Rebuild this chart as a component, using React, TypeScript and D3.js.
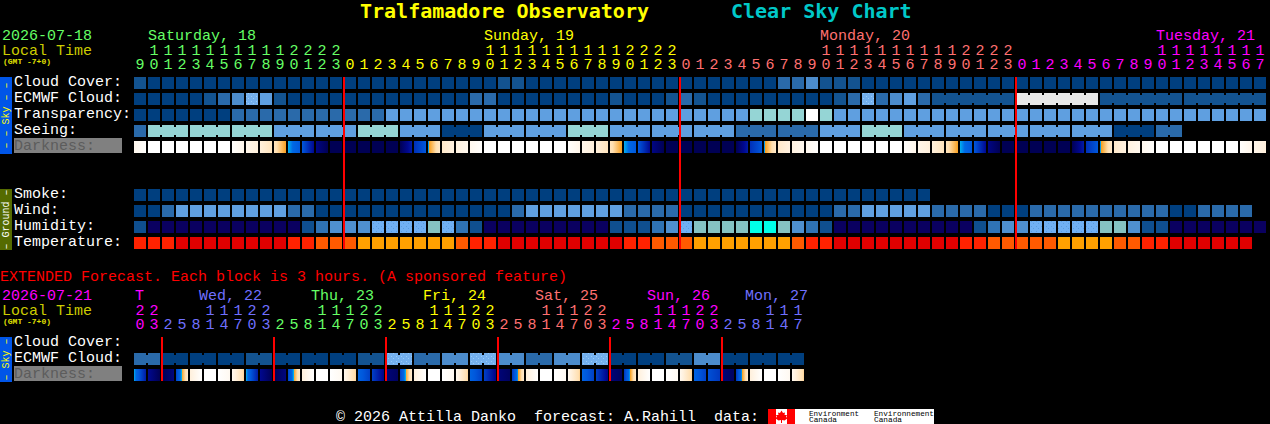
import { useEffect, useRef } from 'react';
import * as d3 from 'd3';

const FONT = '"Liberation Mono", monospace';
const TITLE_FONT = '"DejaVu Sans Mono", monospace';

// palette steps used by the sky rows (0 = best, clear dark blue)
const skyLevels = [0, 1, 2, 3, 4, 5, 6, 7, 8];
const skyColors = ['#003F7F', '#135390', '#2A6AAA', '#4C8CCC', '#5F9FE0', 'url(#speckleSky)', '#95D5D5', '#FFFFFF', '#E8E8E8'];
const humidityColors = ['#0A0060', '#0F4F8F', '#2F73B5', '#4F90D0', 'url(#speckleHum)', '#85C2C2', '#00FFE8'];
const temperatureColors = ['#E00000', '#FF2200', '#FF5A00', '#FFA000'];

const darknessDomain = [0, 1, 2, 3, 3.01, 3.4, 4, 5, 6, 7];
const darknessColors = ['#FFFFFF', '#FFF0DC', '#FFDFB0', '#F8A020', '#00B0F0', '#0068E4', '#0058DC', '#0030B8', '#000890', '#000054'];

const cloudCover = [
  1, 0, 0, 0, 0, 0, 0, 0, 0, 0,
  0, 0, 0, 0, 0, 0, 0, 0, 0, 0,
  0, 0, 0, 0, 0, 0, 1, 1, 0, 0,
  0, 0, 0, 0, 0, 0, 0, 0, 0, 0,
  0, 0, 0, 0, 0, 0, 2, 2, 3, 1,
  1, 1, 0, 0, 0, 0, 0, 0, 0, 0,
  0, 0, 0, 0, 0, 0, 0, 0, 0, 0,
  0, 0, 0, 0, 0, 0, 0, 0, 0, 0, 0,
];
const ecmwfCloud = [
  0, 0, 0, 0, 0, 1, 2, 3, 5, 4,
  1, 0, 0, 0, 0, 0, 0, 0, 0, 0,
  0, 0, 0, 0, 2, 2, 0, 0, 0, 0,
  0, 0, 0, 0, 1, 0, 0, 0, 1, 2,
  1, 0, 0, 0, 0, 0, 0, 0, 0, 0,
  1, 2, 5, 2, 3, 4, 2, 1, 1, 1,
  1, 1, 1, 8, 8, 8, 8, 8, 8, 1,
  1, 1, 1, 1, 1, 1, 1, 1, 1, 1, 1,
];
const ecmwfSpans = [...Array(57).fill(1), 6, 6, 6, 6];
const transparency = [
  0, 0, 0, 0, 0, 0, 0, 2, 2, 2,
  2, 2, 2, 2, 2, 2, 2, 2, 4, 4,
  4, 4, 4, 4, 4, 4, 4, 4, 4, 4,
  4, 4, 4, 4, 4, 4, 4, 4, 4, 4,
  4, 4, 4, 4, 6, 6, 6, 6, 7, 6,
  4, 4, 4, 4, 4, 4, 4, 4, 4, 4,
  4, 4, 4, 4, 4, 4, 4, 4, 4, 4,
  4, 4, 4, 4, 4, 4, 4, 4, 4, 4, 4,
];
const seeing = [
  2, 6, 6, 6, 6, 6, 6, 6, 6, 6,
  4, 4, 4, 4, 4, 4, 6, 6, 6, 4,
  4, 4, 0, 0, 0, 4, 4, 4, 4, 4,
  4, 6, 6, 6, 4, 4, 4, 4, 4, 4,
  4, 4, 4, 2, 2, 2, 2, 2, 2, 4,
  4, 4, 6, 6, 6, 4, 4, 4, 4, 4,
  4, 4, 4, 4, 4, 4, 4, 4, 4, 4,
  0, 0, 0, 2, 2,
];
const seeingSpans = [1, ...Array(24).fill(3), 2];
const darknessStart = [
  0.5, 0, 0, 0, 0, 0, 0, 0.1, 0.6, 1,
  1.7, 3.01, 4, 6.2, 7, 7, 7, 7, 7, 7,
  5, 3.2, 1.4, 0.9, 0.5, 0, 0, 0, 0, 0,
  0, 0.1, 0.6, 1, 1.7, 3.01, 4, 6.2, 7, 7,
  7, 7, 7, 7, 5, 3.2, 1.4, 0.9, 0.5, 0,
  0, 0, 0, 0, 0, 0.1, 0.6, 1, 1.7, 3.01,
  4, 6.2, 7, 7, 7, 7, 7, 7, 5, 3.2,
  1.4, 0.9, 0.5, 0, 0, 0, 0, 0, 0, 0.1, 0.6,
];
const darknessEnd = [
  0.1, 0, 0, 0, 0, 0, 0, 0.6, 1, 1.7,
  3, 4, 6, 7, 7, 7, 7, 7, 7, 5.5,
  4, 1.4, 0.9, 0.5, 0.1, 0, 0, 0, 0, 0,
  0, 0.6, 1, 1.7, 3, 4, 6, 7, 7, 7,
  7, 7, 7, 5.5, 4, 1.4, 0.9, 0.5, 0.1, 0,
  0, 0, 0, 0, 0, 0.6, 1, 1.7, 3, 4,
  6, 7, 7, 7, 7, 7, 7, 5.5, 4, 1.4,
  0.9, 0.5, 0.1, 0, 0, 0, 0, 0, 0, 0.6, 1,
];

const smoke = Array.from('000000000000000000000000000000000000000000000000000000000', Number);
const wind = [
  0, 0, 2, 4, 4, 4, 4, 4, 4, 4,
  4, 2, 2, 0, 0, 0, 0, 0, 0, 0,
  0, 0, 0, 0, 0, 0, 0, 2, 4, 4,
  4, 4, 4, 4, 4, 2, 2, 2, 2, 0,
  0, 0, 0, 0, 0, 0, 0, 0, 0, 0,
  2, 2, 4, 4, 4, 4, 4, 2, 2, 2,
  2, 0, 0, 0, 2, 2, 2, 2, 2, 2,
  2, 2, 2, 2, 0, 0, 2, 2, 2, 2,
];
const humidity = [
  1, 0, 0, 0, 0, 0, 0, 0, 0, 0,
  0, 0, 1, 2, 3, 3, 3, 4, 4, 4,
  4, 5, 4, 2, 1, 0, 0, 0, 0, 0,
  0, 0, 0, 0, 1, 1, 1, 2, 3, 4,
  5, 5, 5, 5, 6, 6, 5, 3, 2, 1,
  0, 0, 0, 0, 0, 0, 0, 0, 0, 0,
  1, 2, 3, 3, 4, 4, 4, 4, 4, 5,
  5, 3, 1, 1, 0, 0, 0, 0, 0, 0, 0,
];
const temperature = [
  1, 1, 1, 0, 0, 0, 0, 0, 0, 0,
  0, 1, 1, 2, 2, 2, 3, 3, 3, 3,
  3, 3, 3, 2, 1, 1, 0, 0, 0, 0,
  0, 0, 0, 0, 0, 1, 1, 2, 2, 2,
  3, 3, 3, 3, 3, 3, 3, 2, 1, 1,
  0, 0, 0, 0, 0, 0, 0, 0, 0, 1,
  1, 2, 2, 2, 2, 2, 3, 3, 3, 3,
  2, 2, 1, 1, 0, 0, 0, 0, 0, 0,
];

// hours shown above the hourly columns
const hours = [
  9, 10, 11, 12, 13, 14, 15, 16, 17, 18, 19, 20, 21, 22, 23,
  0, 1, 2, 3, 4, 5, 6, 7, 8, 9, 10, 11, 12, 13, 14, 15, 16, 17, 18, 19, 20, 21, 22, 23,
  0, 1, 2, 3, 4, 5, 6, 7, 8, 9, 10, 11, 12, 13, 14, 15, 16, 17, 18, 19, 20, 21, 22, 23,
  0, 1, 2, 3, 4, 5, 6, 7, 8, 9, 10, 11, 12, 13, 14, 15, 16, 17,
];
const dayTitles = ['Saturday, 18', 'Sunday, 19', 'Monday, 20', 'Tuesday, 21'];
const dayTitleX = [148, 484, 820, 1156];
const dayColors = ['#66FF66', '#FFFF00', '#FF7070', '#FF00FF'];
const dayBreaks = [15, 39, 63];

// extended forecast, 3 hour blocks
const extHours = [
  20, 23,
  2, 5, 8, 11, 14, 17, 20, 23,
  2, 5, 8, 11, 14, 17, 20, 23,
  2, 5, 8, 11, 14, 17, 20, 23,
  2, 5, 8, 11, 14, 17, 20, 23,
  2, 5, 8, 11, 14, 17, 20, 23,
  2, 5, 8, 11, 14, 17,
];
const extTitles = ['T', 'Wed, 22', 'Thu, 23', 'Fri, 24', 'Sat, 25', 'Sun, 26', 'Mon, 27'];
const extTitleX = [135, 199, 311, 423, 535, 647, 745];
const extColors = ['#FF00FF', '#7070FF', '#66FF66', '#FFFF00', '#FF7070', '#FF00FF', '#7070FF'];
const extBreaks = [2, 10, 18, 26, 34, 42];
const extEcmwf = [
  2, 2, 0, 0, 0, 0, 0, 0, 1, 1,
  0, 0, 0, 0, 0, 0, 1, 1, 5, 5,
  2, 2, 3, 3, 5, 5, 3, 3, 2, 2,
  3, 3, 5, 5, 0, 0, 0, 0, 1, 1,
  3, 3, 0, 0, 0, 0, 0, 0,
];
const extSpans = Array(24).fill(2);
const extDarkStart = [
  3.01, 6, 7, 4.5, 1, 0, 0, 0.5,
  3.01, 6, 7, 4.5, 1, 0, 0, 0.5,
  3.6, 4.6, 6.4, 4.5, 1, 0, 0, 0.5,
  3.6, 4.6, 6.4, 4.8, 1, 0, 0, 0.5,
  3.6, 4.6, 6.4, 4.8, 1, 0, 0, 0.5,
  3.6, 4.2, 6.4, 4.8, 1, 0, 0, 0.5,
];
const extDarkEnd = [
  5.5, 7, 6.3, 1.3, 0, 0, 0.4, 2.2,
  5.5, 7, 6.3, 1.3, 0, 0, 0.4, 2.2,
  4.6, 6.2, 6.8, 1.3, 0, 0, 0.4, 2.2,
  4.6, 6.2, 6.8, 1.3, 0, 0, 0.4, 2.2,
  4.6, 6.2, 6.8, 1.3, 0, 0, 0.4, 2.2,
  4.6, 4.8, 6.8, 1.3, 0, 0, 0.4, 2.2,
];

const App = () => {
  const chartRef = useRef<SVGSVGElement | null>(null);

  useEffect(() => {
    if (!chartRef.current) return;
    document.body.style.margin = '0';
    document.body.style.background = '#000';

    const svg = d3.select(chartRef.current);
    svg.selectAll('*').remove();
    const defs = svg.append('defs');

    // the brightest blues are dithered in the original
    const speckle = (id: string, base: string, dot: string) => {
      const p = defs.append('pattern')
        .attr('id', id)
        .attr('patternUnits', 'userSpaceOnUse')
        .attr('width', 5)
        .attr('height', 5);
      p.append('rect').attr('width', 5).attr('height', 5).attr('fill', base);
      p.append('rect').attr('x', 1).attr('y', 1).attr('width', 1).attr('height', 1).attr('fill', dot);
      p.append('rect').attr('x', 3).attr('y', 3).attr('width', 1).attr('height', 1).attr('fill', dot);
    };
    speckle('speckleSky', '#74B0EE', '#98CCF8');
    speckle('speckleHum', '#70B0F4', '#5A9CE0');

    const skyColor = d3.scaleOrdinal<number, string>().domain(skyLevels).range(skyColors);
    const humColor = d3.scaleOrdinal<number, string>().domain(d3.range(humidityColors.length)).range(humidityColors);
    const tempColor = d3.scaleOrdinal<number, string>().domain(d3.range(temperatureColors.length)).range(temperatureColors);
    const darkColor = d3.scaleLinear<string>().domain(darknessDomain).range(darknessColors);

    // 14px step, 12px wide blocks
    const xMain = d3.scaleBand<number>().domain(d3.range(hours.length)).range([134, 134 + 14 * hours.length - 2]).paddingInner(2 / 14);
    const xExt = d3.scaleBand<number>().domain(d3.range(extHours.length)).range([134, 134 + 14 * extHours.length - 2]).paddingInner(2 / 14);

    const text = (x: number, y: number, s: string, fill: string, size = 15, anchor = 'start') =>
      svg.append('text')
        .attr('x', x)
        .attr('y', y)
        .attr('fill', fill)
        .attr('font-family', FONT)
        .attr('font-size', size)
        .attr('text-anchor', anchor)
        .style('white-space', 'pre')
        .text(s);

    const blocks = (values: number[], x: d3.ScaleBand<number>, y: number, color: (v: number) => string, spans?: number[]) => {
      const g = svg.append('g').attr('shape-rendering', 'crispEdges');
      g.selectAll('rect.cell')
        .data(values)
        .join('rect')
        .attr('class', 'cell')
        .attr('x', (_, i) => x(i) as number)
        .attr('y', y)
        .attr('width', x.bandwidth())
        .attr('height', 12)
        .attr('fill', d => color(d));

      // joined blocks get a bridge over the gap, notched top and bottom
      if (spans) {
        const joins: number[] = [];
        let start = 0;
        spans.forEach(n => {
          d3.range(start, start + n - 1).forEach(i => joins.push(i));
          start += n;
        });
        g.selectAll('rect.join')
          .data(joins)
          .join('rect')
          .attr('class', 'join')
          .attr('x', i => (x(i) as number) + x.bandwidth())
          .attr('y', y + 2)
          .attr('width', x.step() - x.bandwidth())
          .attr('height', 8)
          .attr('fill', i => color(values[i]));
      }
    };

    const darkBlocks = (starts: number[], ends: number[], x: d3.ScaleBand<number>, y: number) => {
      const seen = new Set<string>();
      const fillFor = (a: number, b: number) => {
        if (a === b) return darkColor(a);
        const id = `dk-${a}-${b}`.replace(/\./g, '_');
        if (!seen.has(id)) {
          seen.add(id);
          const lo = Math.min(a, b);
          const hi = Math.max(a, b);
          const vals = [a, ...darknessDomain.filter(v => v > lo && v < hi), b].sort((p, q) => (a < b ? p - q : q - p));
          const grad = defs.append('linearGradient').attr('id', id);
          vals.forEach(v => {
            grad.append('stop')
              .attr('offset', (v - a) / (b - a))
              .attr('stop-color', darkColor(v));
          });
        }
        return `url(#${id})`;
      };
      svg.append('g')
        .selectAll('rect')
        .data(starts)
        .join('rect')
        .attr('x', (_, i) => x(i) as number)
        .attr('y', y)
        .attr('width', x.bandwidth())
        .attr('height', 12)
        .attr('fill', (d, i) => fillFor(d, ends[i]));
    };

    const sideTab = (y0: number, y1: number, fill: string, label: string, labelColor: string) => {
      svg.append('rect').attr('x', 0).attr('y', y0).attr('width', 12).attr('height', y1 - y0).attr('fill', fill);
      text(0, 0, label, labelColor, 10, 'middle')
        .attr('transform', `translate(9, ${(y0 + y1) / 2}) rotate(-90)`);
    };

    const darknessLabel = (baseline: number) => {
      svg.append('rect').attr('x', 14).attr('y', baseline - 12).attr('width', 108).attr('height', 15).attr('fill', '#808080');
      text(14, baseline, 'Darkness:', '#5C5C5C');
    };

    const gmtLabel = (y: number) => {
      text(3, y, '(GMT -7+0)', '#E0E000', 8)
        .attr('font-weight', 'bold')
        .attr('textLength', 48)
        .attr('lengthAdjust', 'spacingAndGlyphs');
    };

    // title
    text(360, 18, 'Tralfamadore Observatory', '#FFFF00', 20).attr('font-weight', 'bold').attr('font-family', TITLE_FONT);
    text(731, 18, 'Clear Sky Chart', '#00C8C8', 20).attr('font-weight', 'bold').attr('font-family', TITLE_FONT);

    // hourly header
    text(2, 40, '2026-07-18', '#66FF66');
    text(2, 55, 'Local Time', '#CCCC00');
    gmtLabel(64);
    dayTitles.forEach((t, i) => text(dayTitleX[i], 40, t, dayColors[i]));
    const dayOf = (i: number) => d3.bisectRight(dayBreaks, i);
    hours.forEach((h, i) => {
      const cx = (xMain(i) as number) + xMain.bandwidth() / 2;
      if (h >= 10) text(cx, 55, String(Math.floor(h / 10)), dayColors[dayOf(i)], 15, 'middle');
      text(cx, 69, String(h % 10), dayColors[dayOf(i)], 15, 'middle');
    });

    // sky rows
    sideTab(77, 154, '#0055E8', '\u2013 \u2013 Sky \u2013 \u2013', '#FFFF00');
    text(14, 86, 'Cloud Cover:', '#FFFFFF');
    text(14, 102, 'ECMWF Cloud:', '#FFFFFF');
    text(14, 118, 'Transparency:', '#FFFFFF');
    text(14, 134, 'Seeing:', '#FFFFFF');
    darknessLabel(150);
    blocks(cloudCover, xMain, 77, skyColor);
    blocks(ecmwfCloud, xMain, 93, skyColor, ecmwfSpans);
    blocks(transparency, xMain, 109, skyColor);
    blocks(seeing, xMain, 125, skyColor, seeingSpans);
    darkBlocks(darknessStart, darknessEnd, xMain, 141);

    // ground rows
    sideTab(189, 250, '#556B00', '\u2013 Ground \u2013', '#FFFFFF');
    text(14, 198, 'Smoke:', '#FFFFFF');
    text(14, 214, 'Wind:', '#FFFFFF');
    text(14, 230, 'Humidity:', '#FFFFFF');
    text(14, 246, 'Temperature:', '#FFFFFF');
    blocks(smoke, xMain, 189, skyColor);
    blocks(wind, xMain, 205, skyColor);
    blocks(humidity, xMain, 221, humColor);
    blocks(temperature, xMain, 237, tempColor);

    // midnight lines
    dayBreaks.forEach(i => {
      svg.append('rect')
        .attr('x', (xMain(i) as number) - 1)
        .attr('y', 77)
        .attr('width', 2)
        .attr('height', 172)
        .attr('fill', '#FF0000');
    });

    // extended forecast
    text(0, 281, 'EXTENDED Forecast. Each block is 3 hours. (A sponsored feature)', '#FF0000');
    text(2, 300, '2026-07-21', '#FF00FF');
    text(2, 315, 'Local Time', '#CCCC00');
    gmtLabel(324);
    extTitles.forEach((t, i) => text(extTitleX[i], 300, t, extColors[i]));
    const extDayOf = (i: number) => d3.bisectRight(extBreaks, i);
    extHours.forEach((h, i) => {
      const cx = (xExt(i) as number) + xExt.bandwidth() / 2;
      if (h >= 10) text(cx, 315, String(Math.floor(h / 10)), extColors[extDayOf(i)], 15, 'middle');
      text(cx, 329, String(h % 10), extColors[extDayOf(i)], 15, 'middle');
    });

    sideTab(337, 382, '#0055E8', '\u2013 Sky \u2013', '#FFFF00');
    text(14, 346, 'Cloud Cover:', '#FFFFFF');
    text(14, 362, 'ECMWF Cloud:', '#FFFFFF');
    darknessLabel(378);
    blocks(extEcmwf, xExt, 353, skyColor, extSpans);
    darkBlocks(extDarkStart, extDarkEnd, xExt, 369);
    extBreaks.forEach(i => {
      svg.append('rect')
        .attr('x', (xExt(i) as number) - 1)
        .attr('y', 337)
        .attr('width', 2)
        .attr('height', 44)
        .attr('fill', '#FF0000');
    });

    // footer and logo
    text(336, 420.5, '\u00A9 2026 Attilla Danko  forecast: A.Rahill  data:', '#FFFFFF');
    const logo = svg.append('g').attr('transform', 'translate(768, 409)');
    logo.append('rect').attr('width', 166).attr('height', 15).attr('fill', '#FFFFFF');
    logo.append('rect').attr('width', 8).attr('height', 15).attr('fill', '#FF0000');
    logo.append('rect').attr('x', 19).attr('width', 8).attr('height', 15).attr('fill', '#FF0000');
    logo.append('path')
      .attr('d', 'M13.5 1.5 L15 4 L17 3.5 L16.5 6 L19 6 L18 8 L20 9 L16.5 11.5 L14 11 L14 14 L13 14 L13 11 L10.5 11.5 L7 9 L9 8 L8 6 L10.5 6 L10 3.5 L12 4 Z')
      .attr('fill', '#FF0000');
    const logoText = (x: number, y: number, s: string, w: number) =>
      logo.append('text')
        .attr('x', x)
        .attr('y', y)
        .attr('fill', '#000')
        .attr('font-family', '"Liberation Mono", monospace')
        .attr('font-size', 8)
        .attr('textLength', w)
        .attr('lengthAdjust', 'spacingAndGlyphs')
        .text(s);
    logoText(41, 7, 'Environment', 50);
    logoText(41, 13, 'Canada', 28);
    logoText(106, 7, 'Environnement', 60);
    logoText(106, 13, 'Canada', 28);
  }, []);

  return <svg ref={chartRef} width={1270} height={424} style={{ display: 'block', background: '#000' }} />;
};

export default App;
